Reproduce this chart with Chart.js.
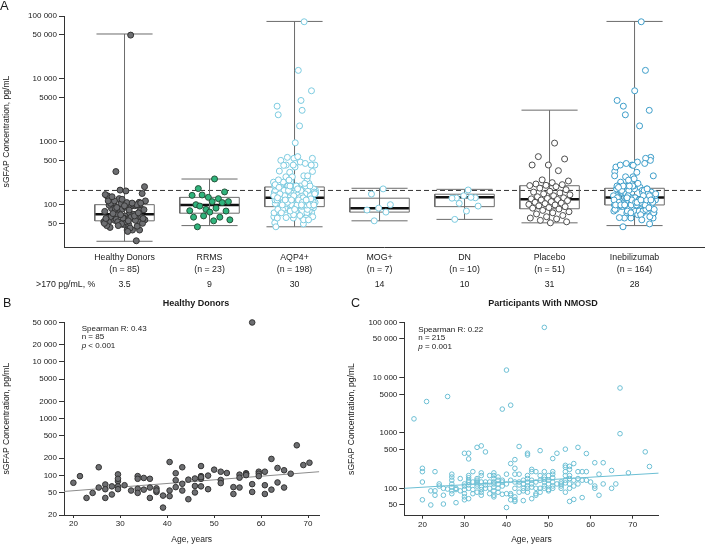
<!DOCTYPE html>
<html>
<head>
<meta charset="utf-8">
<script src="https://cdn.jsdelivr.net/npm/chart.js@4.4.1/dist/chart.umd.min.js"></script>
<style>
  body { margin: 0; background: #fff; font-family: "Liberation Sans", Arial, sans-serif; color: #1a1a1a; }
  #wrap { position: relative; width: 709px; height: 546px; overflow: hidden; }
  canvas { position: absolute; }
  .t { position: absolute; white-space: nowrap; line-height: 1; }
</style>
</head>
<body>
<div id="wrap">
  <canvas id="chartA" width="709" height="300" style="left:0;top:0"></canvas>
  <canvas id="chartB" width="345" height="248" style="left:0;top:298px"></canvas>
  <canvas id="chartC" width="364" height="248" style="left:345px;top:298px"></canvas>

  <div class="t" style="left:0;top:-1px;font-size:13px">A</div>
  <div class="t" style="left:3px;top:297px;font-size:12.5px">B</div>
  <div class="t" style="left:351px;top:297px;font-size:12.5px">C</div>

  <div class="t" style="left:196px;top:298.5px;font-size:9px;font-weight:bold;transform:translateX(-50%)">Healthy Donors</div>
  <div class="t" style="left:543px;top:298.5px;font-size:9px;font-weight:bold;transform:translateX(-50%)">Participants With NMOSD</div>

  <div class="t" style="left:81.7px;top:325px;font-size:8px;line-height:8.4px">Spearman R: 0.43<br>n = 85<br><i>p</i> &lt; 0.001</div>
  <div class="t" style="left:418.3px;top:325.8px;font-size:8px;line-height:8.5px">Spearman R: 0.22<br>n = 215<br><i>p</i> = 0.001</div>
</div>

<script>
// ---- data ----
const groupNames = ['Healthy Donors', 'RRMS', 'AQP4+', 'MOG+', 'DN', 'Placebo', 'Inebilizumab'];
const groupCounts = [85, 23, 198, 7, 10, 51, 164];
const pctAbove170 = ['3.5', '9', '30', '14', '10', '31', '28'];

// box plot stats (min, q1, median, q3, max), pg/mL
const boxMin = [26.5, 47, 45, 56, 59, 52, 47];
const boxQ1 = [56, 74, 94, 77, 94, 87, 100];
const boxMed = [71, 100, 130, 89, 132, 123, 131];
const boxQ3 = [101, 132, 193, 128, 148, 202, 184];
const boxMax = [51800, 258, 82000, 184, 177, 3200, 82000];
const threshold = 170;

const yTicksA = [50, 100, 500, 1000, 5000, 10000, 50000, 100000];
const yTicksB = [20, 50, 100, 200, 500, 1000, 2000, 5000, 10000, 20000, 50000];
const yTicksC = [50, 100, 500, 1000, 5000, 10000, 50000, 100000];
const ageTicks = [20, 30, 40, 50, 60, 70];

// healthy donors: [age, sGFAP]
const hdPoints = [
  [20,74],[21.4,97],[22.8,40],[24.1,49],[25.4,139],[25.4,61],[26.8,69],[26.8,57],[26.8,40],
  [28.2,64],[28.2,46],[29.5,104],[29.5,79],[29.5,64],[29.5,57],[29.5,87],[30.9,67],[32.3,54],
  [33.7,97],[33.7,87],[33.7,58],[33.7,49],[35,90],[35,56],[36.3,87],[36.3,61],[36.3,40],
  [37.7,59],[37.7,51],[37.7,54],[39.1,44],[39.1,27],[40.5,172],[40.5,54],[40.5,43],
  [41.8,109],[41.8,82],[41.8,62],[43.2,139],[43.2,71],[43.2,54],[44.5,84],[44.5,38],
  [45.9,88],[45.9,65],[45.9,50],[47.2,146],[47.2,97],[47.2,87],[47.2,64],[47.2,93],
  [48.7,99],[48.7,57],[50,126],[51.4,116],[51.4,83],[51.4,73],[52.7,110],[54.1,62],[54.1,47],
  [55.4,103],[55.4,91],[55.4,61],[56.8,109],[56.8,106],[56.8,101],[58.1,70],[58.1,51],[58.1,49700],
  [59.5,116],[59.5,107],[59.5,97],[60.8,116],[60.8,67],[60.8,47],[62.2,195],[62.2,56],
  [63.5,135],[63.5,75],[64.9,123],[64.9,61],[66.3,107],[67.6,339],[69,152],[70.3,167]
];

const rrmsValues = [259, 182, 161, 132, 142, 126, 144, 113, 113, 101, 109, 85, 81, 89, 96, 80, 77, 64, 64, 67, 58, 56, 45];
const mogValues = [180, 149, 101, 89, 83, 77, 56];
const dnValues = [173, 129, 130, 140, 128, 132, 106, 96, 80, 59];
const placeboValues = [
  960, 585, 537, 431, 431, 350, 250, 240, 226, 215, 210, 205, 203,
  195, 185, 175, 165, 160, 155, 150, 145, 140, 135, 130, 127, 125,
  122, 120, 117, 113, 110, 107, 105, 102, 100, 97, 94, 91, 89,
  86, 82, 78, 75, 72, 68, 65, 62, 60, 57, 54, 52
];

// all NMOSD participants: [age, sGFAP]
const nmosdPoints = [
  [18,1800],
  [20,230],[20,200],[20,130],[20,62],
  [21,3700],
  [22,90],[22,50],
  [23,200],[23,90],[23,75],
  [24,120],[24,110],
  [25,100],[25,75],[25,52],
  [26,4560],[26,97],
  [27,180],[27,160],[27,140],[27,120],[27,105],[27,90],[27,80],
  [28,100],[28,95],[28,55],
  [29,150],[29,90],
  [30,430],[30,120],[30,110],[30,95],[30,80],[30,70],[30,62],
  [31,430],[31,340],[31,170],[31,155],[31,140],[31,130],[31,115],[31,100],[31,65],
  [32,200],[32,130],[32,95],[32,80],
  [33,550],[33,150],[33,140],[33,130],[33,120],[33,110],[33,85],
  [34,585],[34,190],[34,170],[34,130],[34,105],[34,95],[34,85],[34,75],
  [35,455],[35,130],[35,115],[35,100],
  [36,170],[36,130],[36,100],[36,80],
  [37,190],[37,170],[37,150],[37,130],[37,120],[37,105],[37,90],[37,75],[37,70],
  [38,160],[38,140],[38,120],[38,100],[38,85],
  [39,2700],[39,140],[39,130],[39,110],[39,78],
  [40,13700],[40,180],[40,120],[40,80],[40,45],
  [41,3180],[41,280],[41,140],[41,80],[41,75],[41,62],
  [42,330],[42,230],[42,180],[42,130],[42,100],[42,70],[42,62],[42,58],
  [43,570],[43,180],[43,130],[43,115],[43,85],
  [44,140],[44,120],[44,100],[44,90],[44,60],
  [45,430],[45,400],[45,170],[45,150],[45,130],[45,110],[45,100],[45,85],
  [46,220],[46,200],[46,140],[46,120],[46,105],[46,65],
  [47,200],[47,130],[47,100],[47,80],[47,75],
  [48,480],[48,170],[48,140],[48,100],[48,85],
  [49,81000],[49,200],[49,160],[49,145],[49,130],[49,110],[49,100],
  [50,170],[50,140],[50,120],[50,95],[50,90],
  [51,345],[51,200],[51,180],[51,155],[51,130],[51,110],[51,100],
  [52,430],[52,120],
  [53,130],[53,120],[53,110],[53,100],
  [54,510],[54,260],[54,240],[54,200],[54,170],[54,140],[54,125],[54,85],
  [55,250],[55,220],[55,170],[55,150],[55,120],[55,100],[55,58],
  [56,280],[56,140],[56,110],[56,63],
  [57,550],[57,200],[57,150],[57,120],
  [58,200],[58,140],[58,68],
  [59,425],[59,200],[59,140],
  [60,130],
  [61,290],[61,110],[61,100],
  [62,180],[62,75],
  [63,290],[63,120],
  [65,210],[65,100],
  [66,120],
  [67,6500],[67,970],
  [69,190],
  [73,456],
  [74,248]
];

// fitted lines (end points at axis edges)
const hdFit = [[18, 52], [72.4, 116]];
const nmosdFit = [[15.7, 100], [76.2, 188]];

// ---- helpers ----
Chart.defaults.font.family = '"Liberation Sans", Arial, sans-serif';
Chart.defaults.color = '#1a1a1a';

// AQP4+ = NMOSD without MOG+/DN; inebilizumab = NMOSD without placebo
function without(pool, remove) {
  const left = pool.slice();
  remove.forEach((v) => {
    let best = 0;
    left.forEach((w, j) => {
      if (Math.abs(Math.log(w / v)) < Math.abs(Math.log(left[best] / v))) best = j;
    });
    left.splice(best, 1);
  });
  return left;
}
const nmosdValues = nmosdPoints.map(p => p[1]);
const hdValues = hdPoints.map(p => p[1]);
const aqp4Values = without(nmosdValues, mogValues.concat(dnValues));
const inebValues = without(nmosdValues, placeboValues);
const groupValues = [hdValues, rrmsValues, aqp4Values, mogValues, dnValues, placeboValues, inebValues];

function spread(values, center, half) {
  return values.map((v, k) => ({ x: center + ((((k + 1) * 0.618034) % 1) - 0.5) * 2 * half, y: v }));
}

function fmtTick(v) {
  return v >= 10000 ? String(v).replace(/\B(?=(\d{3})+(?!\d))/g, ' ') : String(v);
}

const groupStyle = [
  { bg: '#6d6e71', border: '#333333' },
  { bg: '#2fb47c', border: '#245239' },
  { bg: '#ffffff', border: '#7ccbe0' },
  { bg: '#ffffff', border: '#7ccbe0' },
  { bg: '#ffffff', border: '#7ccbe0' },
  { bg: '#ffffff', border: '#4d4d4d' },
  { bg: '#ffffff', border: '#3d9dc9' }
];

function lineSet(points, color, width, dash) {
  return {
    data: points, showLine: true, pointRadius: 0, borderColor: color, borderWidth: width,
    borderDash: dash || [], fill: false, tension: 0, order: 2
  };
}

const yAxisStyle = {
  border: { display: true, color: '#333', width: 1 },
  grid: { display: true, drawOnChartArea: false, drawTicks: true, tickLength: 5, color: '#333' },
  ticks: { font: { size: 8 }, padding: 2, autoSkip: false, color: '#1a1a1a' }
};

// ---- panel A ----
const xMinA = -0.712, xMaxA = 6.817;
const boxHalf = 0.35, capHalf = 0.33;
const datasetsA = [];
groupValues.forEach((vals, i) => {
  const half = vals.length > 15 ? 0.25 : 0.18;
  datasetsA.push({
    data: spread(vals, i, half), pointRadius: 3, pointBorderWidth: 1, clip: false,
    pointBackgroundColor: groupStyle[i].bg, pointBorderColor: groupStyle[i].border, order: 1
  });
  datasetsA.push(lineSet([{ x: i, y: boxMin[i] }, { x: i, y: boxMax[i] }], '#6b6b6b', 1));
  datasetsA.push(lineSet([{ x: i - capHalf, y: boxMax[i] }, { x: i + capHalf, y: boxMax[i] }], '#6b6b6b', 1));
  datasetsA.push(lineSet([{ x: i - capHalf, y: boxMin[i] }, { x: i + capHalf, y: boxMin[i] }], '#6b6b6b', 1));
  datasetsA.push(lineSet([
    { x: i - boxHalf, y: boxQ1[i] }, { x: i + boxHalf, y: boxQ1[i] }, { x: i + boxHalf, y: boxQ3[i] },
    { x: i - boxHalf, y: boxQ3[i] }, { x: i - boxHalf, y: boxQ1[i] }
  ], '#6b6b6b', 1));
  datasetsA.push(lineSet([{ x: i - boxHalf, y: boxMed[i] }, { x: i + boxHalf, y: boxMed[i] }], '#111', 2.5));
});
datasetsA.push(lineSet([{ x: xMinA, y: threshold }, { x: xMaxA, y: threshold }], '#333', 1, [5, 3]));

const pctRow = {
  id: 'pctRow',
  afterDraw(chart) {
    const ctx = chart.ctx, x = chart.scales.x;
    ctx.save();
    ctx.font = '8.8px "Liberation Sans", Arial, sans-serif';
    ctx.fillStyle = '#1a1a1a';
    ctx.textBaseline = 'middle';
    ctx.textAlign = 'left';
    ctx.fillText('>170 pg/mL, %', 36, 285);
    ctx.textAlign = 'center';
    pctAbove170.forEach((p, i) => ctx.fillText(p, x.getPixelForValue(i), 285));
    ctx.restore();
  }
};

new Chart(document.getElementById('chartA'), {
  type: 'scatter',
  data: { datasets: datasetsA },
  plugins: [pctRow],
  options: {
    responsive: false, animation: false, events: [],
    layout: { padding: { top: 16, left: 0, right: 0, bottom: 0 } },
    plugins: { legend: { display: false }, tooltip: { enabled: false } },
    scales: {
      x: {
        type: 'linear', min: xMinA, max: xMaxA,
        border: { display: true, color: '#333', width: 1 },
        grid: { display: true, drawOnChartArea: false, drawTicks: false },
        afterBuildTicks: (s) => { s.ticks = groupNames.map((n, i) => ({ value: i })); },
        afterFit: (s) => { s.height = 53; },
        ticks: {
          autoSkip: false, maxRotation: 0, padding: 5, color: '#1a1a1a',
          font: { size: 8.8, lineHeight: 1.3 },
          callback: (v) => [groupNames[v], '(n = ' + groupCounts[v] + ')']
        }
      },
      y: Object.assign({}, yAxisStyle, {
        type: 'logarithmic', min: 21.5, max: 100000,
        afterBuildTicks: (s) => { s.ticks = yTicksA.map(v => ({ value: v })); },
        afterFit: (s) => { s.width = 64; },
        ticks: Object.assign({}, yAxisStyle.ticks, { callback: (v) => fmtTick(v) }),
        title: { display: true, text: 'sGFAP Concentration, pg/mL', font: { size: 8.6 }, padding: { top: 1, bottom: 0 }, color: '#1a1a1a' }
      })
    }
  }
});

// ---- panels B and C ----
function ageChart(id, points, fit, style, yMin, yMax, yTicks, xMin, xMax, yWidth, pad) {
  new Chart(document.getElementById(id), {
    type: 'scatter',
    data: {
      datasets: [
        {
          data: points.map(p => ({ x: p[0], y: p[1] })), order: 1, clip: false,
          pointRadius: style.r, pointBorderWidth: 1,
          pointBackgroundColor: style.bg, pointBorderColor: style.border
        },
        lineSet(fit.map(p => ({ x: p[0], y: p[1] })), style.line, 1)
      ]
    },
    options: {
      responsive: false, animation: false, events: [],
      layout: { padding: pad },
      plugins: { legend: { display: false }, tooltip: { enabled: false } },
      scales: {
        x: {
          type: 'linear', min: xMin, max: xMax,
          border: { display: true, color: '#333', width: 1 },
          grid: { display: true, drawOnChartArea: false, drawTicks: true, tickLength: 3, color: '#333' },
          afterBuildTicks: (s) => { s.ticks = ageTicks.map(v => ({ value: v })); },
          afterFit: (s) => { s.height = pad.xh; },
          ticks: { font: { size: 8 }, padding: 1, maxRotation: 0, autoSkip: false, color: '#1a1a1a' },
          title: { display: true, text: 'Age, years', font: { size: 8.5 }, padding: { top: 0, bottom: 1 }, color: '#1a1a1a' }
        },
        y: Object.assign({}, yAxisStyle, {
          type: 'logarithmic', min: yMin, max: yMax,
          afterBuildTicks: (s) => { s.ticks = yTicks.map(v => ({ value: v })); },
          afterFit: (s) => { s.width = yWidth; },
          ticks: Object.assign({}, yAxisStyle.ticks, { callback: (v) => fmtTick(v) }),
          title: { display: true, text: 'sGFAP Concentration, pg/mL', font: { size: 8.6 }, padding: { top: 1, bottom: 0 }, color: '#1a1a1a' }
        })
      }
    }
  });
}

ageChart('chartB', hdPoints, hdFit,
  { r: 2.8, bg: '#6d6e71', border: '#333333', line: '#8c8c8c' },
  20, 50000, yTicksB, 18, 72.4, 64, { top: 24.3, left: 0, right: 25.7, bottom: 0, xh: 31 });

ageChart('chartC', nmosdPoints, nmosdFit,
  { r: 2.3, bg: 'rgba(255,255,255,0)', border: '#6cbfd4', line: '#6cbfd4' },
  32, 100000, yTicksC, 15.7, 76.2, 59.3, { top: 24.3, left: 0, right: 50.3, bottom: 0, xh: 30.3 });
</script>
</body>
</html>
